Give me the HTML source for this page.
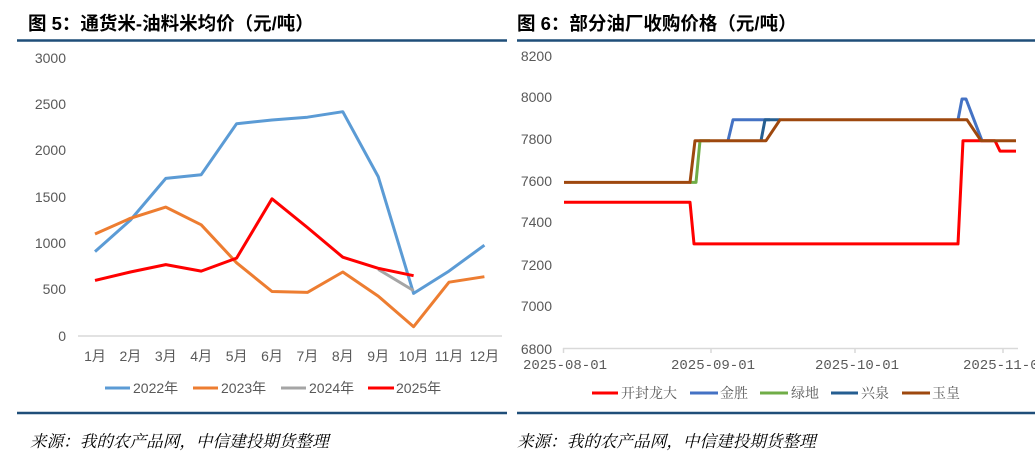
<!DOCTYPE html>
<html><head><meta charset="utf-8"><style>
body{margin:0;background:#fff;width:1035px;height:460px;overflow:hidden}
svg{display:block}
.t{font-family:"Liberation Sans","Noto Sans CJK SC",sans-serif;font-weight:bold;font-size:18.5px;fill:#000}
.ax{font-family:"Liberation Sans","Noto Sans CJK SC",sans-serif;font-size:14px;fill:#595959}
.src{font-family:"Liberation Serif","Noto Serif CJK SC",serif;font-style:italic;font-size:16.6px;fill:#000}
</style></head><body>
<svg width="1035" height="460" viewBox="0 0 1035 460">
<text class="t" x="28" y="30">图 5：通货米-油料米均价（元/吨）</text>
<text class="t" x="517" y="30">图 6：部分油厂收购价格（元/吨）</text>
<line x1="17" y1="40.5" x2="507" y2="40.5" stroke="#1f4e79" stroke-width="2.5"/>
<line x1="517" y1="40.5" x2="1035" y2="40.5" stroke="#1f4e79" stroke-width="2.5"/>
<line x1="17" y1="413" x2="507" y2="413" stroke="#1f4e79" stroke-width="2.5"/>
<line x1="517" y1="413" x2="1035" y2="413" stroke="#1f4e79" stroke-width="2.5"/>
<text class="src" x="30" y="447">来源：我的农产品网，中信建投期货整理</text>
<text class="src" x="517" y="447">来源：我的农产品网，中信建投期货整理</text>

<!-- left chart -->
<g class="ax" text-anchor="end">
<text x="66" y="63">3000</text><text x="66" y="109">2500</text><text x="66" y="155">2000</text>
<text x="66" y="202">1500</text><text x="66" y="248">1000</text><text x="66" y="294">500</text><text x="66" y="341">0</text>
</g>
<line x1="78" y1="336" x2="502" y2="336" stroke="#d9d9d9" stroke-width="1.5"/>
<g class="ax" text-anchor="middle">
<text x="95" y="361">1月</text><text x="130.4" y="361">2月</text><text x="165.8" y="361">3月</text><text x="201.2" y="361">4月</text><text x="236.6" y="361">5月</text><text x="272" y="361">6月</text><text x="307.4" y="361">7月</text><text x="342.8" y="361">8月</text><text x="378.2" y="361">9月</text><text x="413.6" y="361">10月</text><text x="449" y="361">11月</text><text x="484.4" y="361">12月</text>
</g>
<g fill="none" stroke-width="3" stroke-linejoin="round">
<polyline stroke="#5b9bd5" points="95,251.6 130.4,220.1 165.8,178.4 201.2,174.7 236.6,123.7 272,120 307.4,117.2 342.8,111.7 378.2,176.6 413.6,293.4 449,271.1 484.4,245.2"/>
<polyline stroke="#ed7d31" points="95,234 130.4,218.3 165.8,207.1 201.2,224.8 236.6,262.8 272,291.5 307.4,292.4 342.8,272 378.2,296.1 413.6,326.7 449,282.2 484.4,276.7"/>
<polyline stroke="#a5a5a5" points="378.2,269.3 413.6,290.6"/>
<polyline stroke="#ff0000" points="95,280.4 130.4,272 165.8,264.6 201.2,271.1 236.6,258.1 272,198.8 307.4,227.5 342.8,257.2 378.2,268.3 413.6,275.7"/>
</g>
<g stroke-width="3">
<line x1="105" y1="388" x2="130" y2="388" stroke="#5b9bd5"/>
<line x1="193" y1="388" x2="218" y2="388" stroke="#ed7d31"/>
<line x1="281" y1="388" x2="306" y2="388" stroke="#a5a5a5"/>
<line x1="368" y1="388" x2="394" y2="388" stroke="#ff0000"/>
</g>
<g class="ax">
<text x="133" y="393">2022年</text><text x="221" y="393">2023年</text><text x="309" y="393">2024年</text><text x="396" y="393">2025年</text>
</g>

<!-- right chart -->
<g class="ax" text-anchor="end">
<text x="552" y="61">8200</text><text x="552" y="102">8000</text><text x="552" y="144">7800</text><text x="552" y="186">7600</text>
<text x="552" y="227">7400</text><text x="552" y="270">7200</text><text x="552" y="311">7000</text><text x="552" y="354">6800</text>
</g>
<line x1="563" y1="348.5" x2="1018" y2="348.5" stroke="#d9d9d9" stroke-width="1.5"/>
<g stroke="#d9d9d9" stroke-width="1.5">
<line x1="563.5" y1="348" x2="563.5" y2="353"/><line x1="711" y1="348" x2="711" y2="353"/><line x1="855" y1="348" x2="855" y2="353"/><line x1="1003" y1="348" x2="1003" y2="353"/>
</g>
<g class="ax" text-anchor="middle" style="font-family:'Liberation Mono','DejaVu Sans Mono',monospace;font-size:14px">
<text x="565" y="369">2025-08-01</text><text x="713" y="369">2025-09-01</text><text x="857" y="369">2025-10-01</text><text x="1005" y="369">2025-11-01</text>
</g>
<g fill="none" stroke-width="3" stroke-linejoin="round">
<polyline stroke="#ff0000" points="564,202.2 690,202.2 694,243.9 958,243.9 963,140.7 995,140.7 1000,151.1 1016,151.1"/>
<polyline stroke="#70ad47" points="690,182.4 696,182.4 700,140.7 710,140.7"/>
<polyline stroke="#4472c4" points="728,140.7 733,119.8 770,119.8"/>
<polyline stroke="#4472c4" points="958,119.8 962,99 966,99 982,140.7"/>
<polyline stroke="#255e91" points="761,140.7 765,119.8 780,119.8"/>
<polyline stroke="#9e480e" points="564,182.4 690,182.4 695,140.7 766,140.7 780,119.8 967,119.8 981,140.7 1016,140.7"/>
</g>
<g stroke-width="3">
<line x1="592" y1="393" x2="618" y2="393" stroke="#ff0000"/>
<line x1="690" y1="393" x2="718" y2="393" stroke="#4472c4"/>
<line x1="760" y1="393" x2="788" y2="393" stroke="#70ad47"/>
<line x1="831" y1="393" x2="858" y2="393" stroke="#255e91"/>
<line x1="902" y1="393" x2="930" y2="393" stroke="#9e480e"/>
</g>
<g class="ax" style="font-family:'Noto Serif CJK SC',serif">
<text x="621" y="398">开封龙大</text><text x="720" y="398">金胜</text><text x="791" y="398">绿地</text><text x="861" y="398">兴泉</text><text x="932" y="398">玉皇</text>
</g>
</svg>
</body></html>
